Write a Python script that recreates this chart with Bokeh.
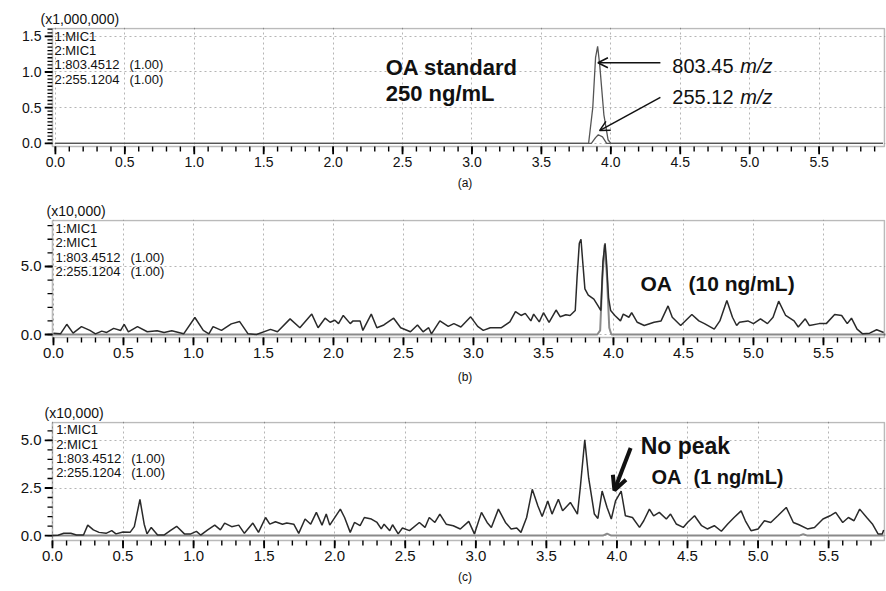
from bokeh.plotting import figure
from bokeh.layouts import column
from bokeh.models import (FixedTicker, PrintfTickFormatter, Label, Arrow,
                          OpenHead, Title, Range1d, BoxAnnotation)
from bokeh.embed import file_html
from bokeh.resources import INLINE

FONT = "Liberation Sans"

# ---------------- data (intensities in the units shown on each axis) -------------
# panel (a)  OA standard 250 ng/mL   (x1,000,000)
a_t_803 = [0.0, 3.84, 3.87, 3.89, 3.905, 3.92, 3.95, 3.98, 4.0, 5.96]
a_i_803 = [0.0, 0.0, 0.5, 1.2, 1.36, 1.1, 0.4, 0.05, 0.0, 0.0]
a_t_255 = [0.0, 3.86, 3.89, 3.91, 3.94, 3.97, 5.96]
a_i_255 = [0.0, 0.0, 0.08, 0.12, 0.09, 0.0, 0.0]

# panel (b)  OA 10 ng/mL   (x10,000)
b_t_1 = [0.0, 0.05, 0.095, 0.14, 0.20, 0.26, 0.30, 0.345, 0.38, 0.43, 0.48, 0.505,
         0.535, 0.60, 0.67, 0.74, 0.79, 0.845, 0.93, 1.01, 1.07, 1.11, 1.14, 1.20,
         1.27, 1.33, 1.39, 1.45, 1.55, 1.60, 1.69, 1.76, 1.845, 1.89, 1.94, 1.976,
         2.01, 2.036, 2.07, 2.12, 2.14, 2.19, 2.21, 2.27, 2.31, 2.36, 2.43, 2.48,
         2.55, 2.60, 2.64, 2.68, 2.70, 2.76, 2.82, 2.86, 2.91, 2.98, 3.03, 3.07,
         3.12, 3.20, 3.26, 3.30, 3.34, 3.37, 3.41, 3.43, 3.47, 3.50, 3.54, 3.59,
         3.62, 3.66, 3.69, 3.727, 3.74, 3.756, 3.768, 3.78, 3.796, 3.82, 3.86, 3.89,
         3.91, 3.925, 3.94, 3.95, 3.965, 3.98, 4.01, 4.05, 4.07, 4.11, 4.13, 4.17,
         4.22, 4.29, 4.34, 4.39, 4.42, 4.48, 4.56, 4.61, 4.65, 4.72, 4.76, 4.81,
         4.85, 4.88, 4.90, 4.96, 5.00, 5.05, 5.10, 5.14, 5.18, 5.23, 5.29, 5.32,
         5.37, 5.40, 5.47, 5.52, 5.58, 5.63, 5.67, 5.70, 5.74, 5.78, 5.83, 5.88, 5.93]
b_i_1 = [0.1, 0.05, 0.75, 0.1, 0.58, 0.3, 0.05, 0.25, 0.15, 0.45, 0.3, 0.75,
         0.2, 0.58, 0.2, 0.27, 0.15, 0.27, 0.05, 1.25, 0.3, 0.05, 0.58, 0.3,
         0.78, 0.95, 0.05, 0.0, 0.38, 0.2, 1.15, 0.5, 1.5, 0.5, 1.2, 0.9,
         1.05, 0.8, 1.4, 0.8, 1.0, 1.0, 0.3, 1.5, 0.5, 0.7, 1.2, 0.5,
         0.2, 0.7, 0.2, 0.5, 0.05, 1.0, 0.6, 0.8, 0.55, 1.3, 0.6, 0.3,
         0.5, 0.5, 0.93, 1.68, 1.4, 1.55, 1.0, 1.5, 0.93, 1.6, 0.9, 1.8,
         1.3, 1.45, 1.4, 1.76, 4.2, 6.7, 7.0, 5.4, 3.35, 2.9, 2.6, 2.1,
         1.76, 5.4, 6.7, 5.4, 2.7, 1.76, 1.4, 1.0, 1.5, 1.27, 1.6, 0.9,
         0.66, 0.9, 1.0, 2.1, 1.27, 0.66, 1.47, 1.0, 0.8, 0.4, 1.0, 2.5,
         1.27, 0.66, 0.9, 1.0, 0.8, 1.15, 0.8, 1.27, 2.45, 1.4, 1.0, 0.55,
         1.15, 0.66, 0.8, 0.8, 1.47, 1.4, 0.8, 1.2, 0.4, 0.05, 0.1, 0.35, 0.15]
b_t_2 = [0.0, 3.885, 3.905, 3.92, 3.937, 3.952, 3.97, 3.985, 5.95]
b_i_2 = [0.0, 0.0, 0.3, 4.0, 6.6, 4.5, 0.5, 0.0, 0.0]

# panel (c)  OA 1 ng/mL   (x10,000)
c_t_1 = [0.0, 0.04, 0.08, 0.13, 0.17, 0.22, 0.25, 0.29, 0.33, 0.38, 0.42, 0.45,
         0.50, 0.55, 0.58, 0.62, 0.65, 0.67, 0.70, 0.745, 0.79, 0.835, 0.88, 0.935,
         0.98, 1.02, 1.05, 1.10, 1.15, 1.19, 1.22, 1.27, 1.32, 1.36, 1.42, 1.46,
         1.51, 1.54, 1.58, 1.63, 1.66, 1.71, 1.745, 1.79, 1.83, 1.87, 1.91, 1.94,
         1.965, 2.04, 2.07, 2.11, 2.14, 2.18, 2.21, 2.26, 2.30, 2.33, 2.35, 2.39,
         2.41, 2.45, 2.48, 2.53, 2.60, 2.64, 2.67, 2.71, 2.745, 2.79, 2.84, 2.89,
         2.95, 2.99, 3.04, 3.08, 3.11, 3.16, 3.21, 3.25, 3.29, 3.32, 3.36, 3.40,
         3.44, 3.47, 3.51, 3.54, 3.585, 3.615, 3.67, 3.72, 3.74, 3.772, 3.80, 3.84,
         3.865, 3.895, 3.93, 3.96, 3.99, 4.03, 4.06, 4.11, 4.16, 4.19, 4.23, 4.26,
         4.30, 4.35, 4.38, 4.42, 4.47, 4.50, 4.55, 4.60, 4.64, 4.69, 4.74, 4.785,
         4.83, 4.88, 4.91, 4.95, 5.00, 5.045, 5.09, 5.14, 5.20, 5.25, 5.29, 5.35,
         5.40, 5.46, 5.51, 5.55, 5.60, 5.64, 5.68, 5.72, 5.77, 5.81, 5.85, 5.88, 5.89]
c_i_1 = [0.0, 0.02, 0.12, 0.12, 0.03, 0.03, 0.55, 0.3, 0.17, 0.12, 0.26, 0.09,
         0.19, 0.17, 0.47, 1.9, 0.6, 0.09, 0.43, 0.03, 0.03, 0.26, 0.49, 0.09,
         0.09, 0.22, 0.03, 0.3, 0.55, 0.3, 0.66, 0.47, 0.55, 0.12, 0.66, 0.17,
         0.95, 0.6, 0.73, 0.6, 0.66, 0.6, 0.12, 0.87, 0.6, 1.22, 0.55, 1.13,
         0.55, 1.39, 0.95, 0.17, 0.69, 0.52, 0.95, 0.87, 0.69, 0.35, 0.6, 0.26,
         0.57, 0.09, 0.4, 0.26, 0.69, 0.43, 0.95, 0.69, 1.13, 0.6, 0.52, 0.35,
         0.75, 0.09, 1.22, 0.69, 0.43, 1.39, 0.69, 0.35, 0.4, 0.17, 0.95, 2.43,
         1.56, 1.0, 1.82, 1.13, 1.91, 1.3, 1.74, 1.13, 2.5, 5.03, 3.0, 1.13,
         0.9, 2.34, 1.48, 0.87, 1.82, 2.34, 1.04, 0.95, 0.43, 0.78, 1.39, 1.04,
         1.22, 0.87, 1.13, 0.61, 0.43, 0.69, 1.04, 0.52, 0.35, 0.52, 0.23, 0.61,
         0.95, 1.3, 0.78, 0.26, 0.35, 0.78, 0.69, 1.04, 1.48, 0.69, 0.57, 0.35,
         0.43, 0.87, 1.04, 1.22, 0.69, 0.95, 0.78, 1.39, 0.95, 0.61, 0.09, 0.09, 0.3]
c_t_2 = [0.0, 3.90, 3.93, 3.96, 5.29, 5.32, 5.35, 5.89]
c_i_2 = [0.0, 0.0, 0.1, 0.0, 0.0, 0.07, 0.0, 0.0]

x_major = [0.0, 0.5, 1.0, 1.5, 2.0, 2.5, 3.0, 3.5, 4.0, 4.5, 5.0, 5.5]
legend_lines = ["1:MIC1", "2:MIC1", "1:803.4512", "2:255.1204"]
legend_ratio = "(1.00)"

INK = "#111111"
FIG_W = 886
MAJ = 8      # major tick length, px
MIN = 5      # minor tick length, px


def make_panel(height, xr, yr, y_major, y_minor_step, bl, bt, bb, unit_text,
               unit_offset, caption, cap_standoff, tick_size):
    # visible box geometry (in px) -> scale, then widen the frame by the tick length
    br = 2
    xpx = (FIG_W - bl - br) / (xr[1] - xr[0])
    ypx = (height - bt - bb) / (yr[1] - yr[0])
    x_rng = Range1d(xr[0] - MAJ / xpx, xr[1] + 1 / xpx)
    y_rng = Range1d(yr[0] - MAJ / ypx, yr[1] + 1 / ypx)
    p = figure(width=FIG_W, height=height, x_range=x_rng, y_range=y_rng,
               output_backend="svg", toolbar_location=None,
               min_border_left=bl - MAJ, min_border_right=br - 1,
               min_border_top=bt - 1, min_border_bottom=bb - MAJ)
    p.title.text = unit_text
    p.title.align = "left"
    p.title.offset = unit_offset + MAJ
    p.title.standoff = 1
    p.title.text_font = FONT
    p.title.text_font_size = "14px"
    p.title.text_font_style = "normal"
    p.title.text_color = INK

    p.add_layout(Title(text=caption, align="center", text_font=FONT,
                       text_font_size="12px", text_font_style="normal",
                       text_color=INK, standoff=cap_standoff, offset=MAJ / 2), "below")

    x_minor = [round(k * 0.1, 2) for k in range(0, 60) if round(k * 0.1, 2) <= xr[1]]
    n = int(yr[1] / y_minor_step) + 1
    y_minor = [round(k * y_minor_step, 3) for k in range(0, n)]
    p.xaxis.ticker = FixedTicker(ticks=x_major)
    p.yaxis.ticker = FixedTicker(ticks=y_major)
    p.xaxis.formatter = PrintfTickFormatter(format="%.1f")
    p.yaxis.formatter = PrintfTickFormatter(format="%.1f")
    p.axis.major_tick_in = 0
    p.axis.major_tick_out = 0
    p.axis.minor_tick_in = 0
    p.axis.minor_tick_out = 0
    p.axis.axis_line_color = None
    p.axis.major_tick_line_color = None
    p.axis.minor_tick_line_color = None
    p.axis.major_label_text_font = FONT
    p.axis.major_label_text_font_size = tick_size
    p.axis.major_label_text_color = INK
    p.xaxis.major_label_standoff = 2
    p.yaxis.major_label_standoff = 3
    p.xgrid.grid_line_color = "#b5b5b5"
    p.xgrid.grid_line_dash = "2 3"
    p.ygrid.grid_line_color = "#b5b5b5"
    p.ygrid.grid_line_dash = "2 3"
    p.outline_line_color = None
    p.background_fill_color = "white"
    p.border_fill_color = "white"

    # plot box
    p.add_layout(BoxAnnotation(left=xr[0], right=xr[1], bottom=yr[0], top=yr[1],
                               fill_alpha=0, line_color="#1a1a1a", line_width=1.6,
                               level="overlay"))
    # tick marks just outside the box (inside the widened frame)
    for ticks, length, width in ((x_major, MAJ, 1.8), (x_minor, MIN, 1.4)):
        p.segment(x0=ticks, x1=ticks, y0=[yr[0]] * len(ticks),
                  y1=[yr[0] - length / ypx] * len(ticks),
                  line_color="black", line_width=width)
    for ticks, length, width in ((y_major, MAJ, 1.8), (y_minor, MIN, 1.3)):
        p.segment(y0=ticks, y1=ticks, x0=[xr[0]] * len(ticks),
                  x1=[xr[0] - length / xpx] * len(ticks),
                  line_color="black", line_width=width)
    return p


def add_legend(p, x, ys):
    for txt, y in zip(legend_lines, ys):
        p.add_layout(Label(x=x, y=y, text=txt, text_font=FONT, text_font_size="13px",
                           text_baseline="middle", text_color=INK))
    for y in ys[2:]:
        p.add_layout(Label(x=x, y=y, x_offset=75, text=legend_ratio, text_font=FONT,
                           text_font_size="13px", text_baseline="middle",
                           text_color=INK))


def note(p, x, y, text, size, style="bold", dx=0):
    p.add_layout(Label(x=x, y=y, x_offset=dx, text=text, text_font=FONT,
                       text_font_size=size, text_font_style=style,
                       text_baseline="middle", text_color=INK))


# ---------------- panel (a) ----------------
pa = make_panel(200, (-0.0214, 5.971), (-0.045, 1.61), [0.0, 0.5, 1.0, 1.5], 0.05,
                45, 28, 54, "(x1,000,000)", -12, "(a)", 8, "14px")
pa.line(a_t_255, a_i_255, line_color="#555555", line_width=1.3)
pa.line(a_t_803, a_i_803, line_color="#555555", line_width=1.3)
add_legend(pa, -0.007, [1.50, 1.30, 1.10, 0.90])
note(pa, 2.379, 1.057, "OA standard", "22px")
note(pa, 2.379, 0.697, "250 ng/mL", "22px")
note(pa, 4.443, 1.08, "803.45", "20px", "normal")
note(pa, 4.443, 1.08, "m/z", "20px", "italic", 68)
note(pa, 4.443, 0.651, "255.12", "20px", "normal")
note(pa, 4.443, 0.651, "m/z", "20px", "italic", 68)
pa.add_layout(Arrow(end=OpenHead(size=10, line_width=1.5, line_color=INK),
                    x_start=4.357, y_start=1.13, x_end=3.907, y_end=1.13,
                    line_width=1.5, line_color=INK))
pa.add_layout(Arrow(end=OpenHead(size=10, line_width=1.5, line_color=INK),
                    x_start=4.357, y_start=0.645, x_end=3.919, y_end=0.178,
                    line_width=1.5, line_color=INK))

# ---------------- panel (b) ----------------
pb = make_panel(202, (-0.007, 5.936), (-0.22, 8.38), [0.0, 5.0], 1.0,
                52, 20, 65, "(x10,000)", -6, "(b)", 14, "15px")
pb.line(b_t_2, b_i_2, line_color="#8a8a8a", line_width=2)
pb.line(b_t_1, b_i_1, line_color="#2a2a2a", line_width=1.5)
add_legend(pb, 0.014, [7.77, 6.73, 5.68, 4.64])
note(pb, 4.193, 3.77, "OA", "21px")
note(pb, 4.193, 3.77, "(10 ng/mL)", "21px", "bold", 48)

# ---------------- panel (c) ----------------
pc = make_panel(189, (0.0, 5.896), (-0.26, 5.94), [0.0, 2.5, 5.0], 0.5,
                48, 19, 51, "(x10,000)", -8, "(c)", 9, "15px")
pc.line(c_t_2, c_i_2, line_color="#8a8a8a", line_width=2)
pc.line(c_t_1, c_i_1, line_color="#2a2a2a", line_width=1.5)
add_legend(pc, 0.026, [5.56, 4.81, 4.05, 3.33])
note(pc, 4.168, 4.70, "No peak", "23px")
note(pc, 4.245, 3.07, "OA", "20px")
note(pc, 4.245, 3.07, "(1 ng/mL)", "20px", "bold", 42)
pc.add_layout(Arrow(end=OpenHead(size=14, line_width=4, line_color=INK),
                    x_start=4.097, y_start=4.6, x_end=3.982, y_end=2.38,
                    line_width=4, line_color=INK))

layout = column(pa, pb, pc, spacing=0)
open("out.html", "w").write(file_html(layout, INLINE))
